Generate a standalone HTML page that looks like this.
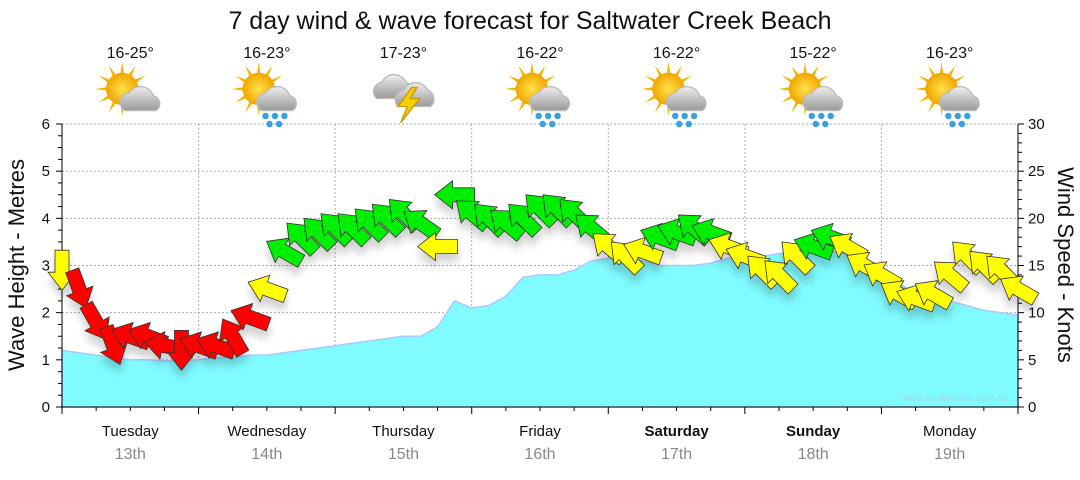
<!DOCTYPE html>
<html><head><meta charset="utf-8"><style>
body{margin:0;background:#fff;}
svg{font-family:"Liberation Sans","DejaVu Sans",sans-serif;}
</style></head><body>
<svg id="chart" width="1080" height="475" viewBox="0 0 1080 475">
<defs>
<filter id="sh" x="-50%" y="-50%" width="200%" height="200%"><feDropShadow dx="0" dy="8" stdDeviation="4" flood-color="#000" flood-opacity="0.18"/></filter>
<radialGradient id="sun" cx="50%" cy="50%" r="50%"><stop offset="0" stop-color="#ffe24a"/><stop offset="1" stop-color="#f0a500"/></radialGradient>
<linearGradient id="cloud" x1="0" y1="0" x2="0" y2="1"><stop offset="0" stop-color="#eeeeee"/><stop offset="1" stop-color="#999"/></linearGradient>
</defs>
<text x="530" y="29" text-anchor="middle" font-size="25" fill="#111">7 day wind &amp; wave forecast for Saltwater Creek Beach</text>
<g id="grid"></g>
<g id="wave"></g>
<g id="axes"></g>
<g id="arrows" filter="url(#sh)"></g>
<g id="icons"></g>
<text x="955" y="401" text-anchor="middle" font-size="10" fill="#9adbe6">www.seabreeze.com.au</text>
<text transform="translate(24,265) rotate(-90)" text-anchor="middle" font-size="22" fill="#111">Wave Height - Metres</text>
<text transform="translate(1058,265) rotate(90)" text-anchor="middle" font-size="22" fill="#111">Wind Speed - Knots</text>
</svg>
<script>
const days=["Tuesday","Wednesday","Thursday","Friday","Saturday","Sunday","Monday"];
const dates=["13th","14th","15th","16th","17th","18th","19th"];
const temps=["16-25°","16-23°","17-23°","16-22°","16-22°","15-22°","16-23°"];
const icons=["sun-cloud","sun-rain","storm","sun-rain","sun-rain","sun-rain","sun-rain"];
const waveM=[1.2,1.15,1.1,1.05,1.0,1.0,0.98,0.98,1.0,1.05,1.05,1.1,1.1,1.15,1.2,1.25,1.3,1.35,1.4,1.45,1.5,1.5,1.7,2.25,2.1,2.15,2.35,2.75,2.8,2.8,2.9,3.1,3.15,3.15,3.1,3.0,3.0,3.0,3.05,3.15,3.2,3.2,3.25,3.3,3.3,3.3,3.25,3.1,2.8,2.6,2.45,2.35,2.25,2.15,2.05,2.0,1.95];
const windKn=[14.5,12.5,9,6.5,7.5,7.5,6.5,6,6.5,6.5,7.5,9.5,12.5,16.5,18,18.5,19,19,19.5,20,20.5,19.5,17,22.5,20.5,20,19.5,20,21,21,20.5,19,17,16,16.5,18,18.5,19,18.5,17,16,14.5,14,16,17,18,17,15,14,12,11.5,12,14,16,15,14.5,12.5];
const windDir=[90,70,60,70,200,200,190,90,200,200,240,200,200,210,225,225,225,225,225,225,225,215,180,180,220,225,220,225,225,225,225,220,220,225,200,200,200,220,200,200,200,225,225,225,200,200,210,210,210,210,200,210,220,225,225,225,210];
const windCol=["Y","R","R","R","R","R","R","R","R","R","R","R","Y","G","G","G","G","G","G","G","G","G","Y","G","G","G","G","G","G","G","G","G","Y","Y","Y","G","G","G","G","Y","Y","Y","Y","Y","G","G","Y","Y","Y","Y","Y","Y","Y","Y","Y","Y","Y"];
const x0=62,x1=1018,y0=407,y1=124;
const NS="http://www.w3.org/2000/svg";
function X(i){return x0+(x1-x0)*i/56;}
function YM(m){return y0-(y0-y1)*m/6;}
function YK(k){return y0-(y0-y1)*k/30;}
function mk(t,a,p){const e=document.createElementNS(NS,t);for(const k in a)e.setAttribute(k,a[k]);p.appendChild(e);return e;}
const grid=document.getElementById('grid'),axes=document.getElementById('axes');
for(let m=1;m<=6;m++){const l=mk('line',{x1:x0,x2:x1,y1:YM(m),y2:YM(m),stroke:'#aaa','stroke-dasharray':'2,2'},grid);

}
for(let d=1;d<7;d++){const l=mk('line',{x1:X(d*8),x2:X(d*8),y1:y1,y2:y0,stroke:'#aaa','stroke-dasharray':'2,2'},grid);

}
let d='M'+x0+','+y0;waveM.forEach((m,i)=>{d+=' L'+X(i).toFixed(1)+','+YM(m).toFixed(1);});d+=' L'+x1+','+y0+' Z';
const wa=mk('path',{d:d,fill:'#80fbff',stroke:'#a9c8ff','stroke-width':1.5},document.getElementById('wave'));


mk('line',{x1:x0,x2:x0,y1:y1,y2:y0,stroke:'#000'},axes);
mk('line',{x1:x1,x2:x1,y1:y1,y2:y0,stroke:'#000'},axes);
mk('line',{x1:x0,x2:x1,y1:y0,y2:y0,stroke:'#000'},axes);
for(let q=0;q<=24;q++){const y=YM(q/4);mk('line',{x1:x0-(q%4?4:6),x2:x0,y1:y,y2:y,stroke:'#000'},axes);
if(q%4==0){const t=mk('text',{x:50,y:y+5,'text-anchor':'end','font-size':15,fill:'#111'},axes);t.textContent=q/4;

}}
for(let k=0;k<=30;k++){const y=YK(k);mk('line',{x1:x1,x2:x1+(k%5?4:6),y1:y,y2:y,stroke:'#000'},axes);
if(k%5==0){const t=mk('text',{x:1028,y:y+5,'font-size':15,fill:'#111'},axes);t.textContent=k;

}}
for(let i=0;i<=28;i++){const x=x0+(x1-x0)*i/28;mk('line',{x1:x,x2:x,y1:y0,y2:y0+(i%4?4:7),stroke:'#000'},axes);}
const iconsG=document.getElementById('icons');
days.forEach((dn,i)=>{const cx=x0+(x1-x0)*(i+0.5)/7;
const t=mk('text',{x:cx,y:436,'text-anchor':'middle','font-size':15,fill:'#111','font-weight':(i==4||i==5)?'bold':'normal'},axes);t.textContent=dn;


const t2=mk('text',{x:cx,y:459,'text-anchor':'middle','font-size':16,fill:'#888'},axes);t2.textContent=dates[i];


const t3=mk('text',{x:cx,y:58,'text-anchor':'middle','font-size':16,fill:'#111'},iconsG);t3.textContent=temps[i];


const g=mk('g',{transform:'translate('+cx+',93) scale(1.35)'},iconsG);


if(icons[i]!='storm'){
 for(let r=0;r<12;r++){const a=r*30*Math.PI/180;mk('path',{d:'M'+(-6+Math.cos(a+0.15)*10)+','+(-3+Math.sin(a+0.15)*10)+' L'+(-6+Math.cos(a)*20)+','+(-3+Math.sin(a)*20)+' L'+(-6+Math.cos(a-0.15)*10)+','+(-3+Math.sin(a-0.15)*10)+'Z',fill:'#f4b400'},g);}
 mk('circle',{cx:-6,cy:-3,r:12,fill:'url(#sun)'},g);
 mk('path',{d:'M-4,13 a7,7 0 0 1 3,-13 a10,10 0 0 1 18,2 a6,6 0 0 1 2,11 Z',fill:'url(#cloud)',stroke:'#bbb'},g);
 if(icons[i]=='sun-rain'){[[-1,17],[6,17],[13,17],[2,23],[9,23]].forEach(p=>mk('circle',{cx:p[0],cy:p[1],r:2.4,fill:'#3aa0e0'},g));}
}else{
 mk('path',{d:'M-20,4 a7,7 0 0 1 4,-12 a10,10 0 0 1 18,0 a7,7 0 0 1 2,12 Z',fill:'url(#cloud)',stroke:'#bbb'},g);
 mk('path',{d:'M-4,10 a7,7 0 0 1 4,-12 a10,10 0 0 1 18,0 a7,7 0 0 1 2,12 Z',fill:'url(#cloud)',stroke:'#bbb'},g);
 mk('path',{d:'M6,-4 L-4,10 L3,10 L-2,22 L12,4 L5,4 L10,-4 Z',fill:'#f5d000',stroke:'#c90'},g);
}
});
const cols={R:'#ff0000',Y:'#ffff00',G:'#00ee00'};
const ag=document.getElementById('arrows');
windKn.forEach((k,i)=>{
 const p=mk('path',{d:'M20,0 L2,-14 L2,-7 L-20,-7 L-20,7 L2,7 L2,14 Z',fill:cols[windCol[i]],stroke:'#333','stroke-width':0.8,
  transform:'translate('+X(i).toFixed(1)+','+YK(k).toFixed(1)+') rotate('+windDir[i]+')'},ag);
 
 
});
</script>
</body></html>
